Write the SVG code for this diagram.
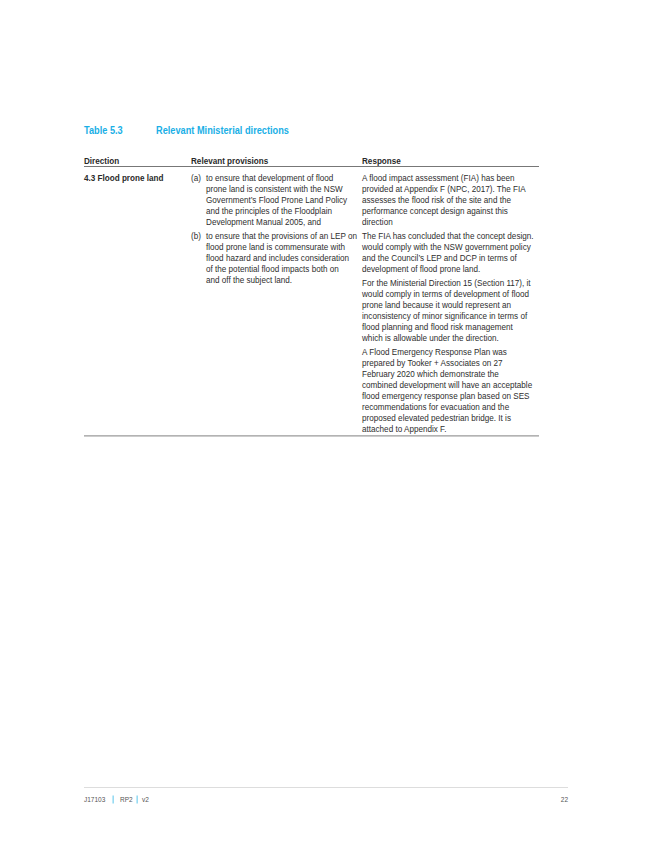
<svg xmlns="http://www.w3.org/2000/svg" width="652" height="844" viewBox="0 0 652 844">
  <style>
    .title { font-family: "Liberation Sans", Arial, sans-serif; font-size: 10.4px; font-weight: bold; fill: #1AAFE6; }
    .hd { font-family: "Liberation Sans", Arial, sans-serif; font-size: 8.6px; font-weight: bold; fill: #2a2a2a; }
    .tx { font-family: "Liberation Sans", Arial, sans-serif; font-size: 8.6px; fill: #2e2e2e; }
    .ft { font-family: "Liberation Sans", Arial, sans-serif; font-size: 6.5px; fill: #555555; }
    .pipe { fill: #7FD3F0; }
  </style>
  <rect x="0" y="0" width="652" height="844" fill="#ffffff"/>

  <g id="table-title" transform="translate(84,0) scale(0.885,1)">
    <text class="title" x="0" y="134.5">Table 5.3</text>
    <text class="title" x="81.4" y="134.5">Relevant Ministerial directions</text>
  </g>

  <g id="table-rules">
    <line x1="84" y1="166.5" x2="539" y2="166.5" stroke="#777777" stroke-width="1"/>
    <line x1="84" y1="435.8" x2="539" y2="435.8" stroke="#9a9a9a" stroke-width="1.3"/>
  </g>

  <g id="table-header">
    <g transform="translate(84,0) scale(0.945,1)"><text class="hd" x="0" y="164">Direction</text></g>
    <g transform="translate(191,0) scale(0.945,1)"><text class="hd" x="0" y="164">Relevant provisions</text></g>
    <g transform="translate(362,0) scale(0.945,1)"><text class="hd" x="0" y="164">Response</text></g>
  </g>

  <g id="direction-cell" transform="translate(84,0) scale(0.945,1)">
    <text class="hd" x="0" y="181">4.3 Flood prone land</text>
  </g>

  <g id="provisions-cell" transform="translate(191,0) scale(0.945,1)">
    <text class="tx" x="0" y="181">(a)</text>
    <text class="tx" x="15.9" y="181">to ensure that development of flood</text>
    <text class="tx" x="15.9" y="192">prone land is consistent with the NSW</text>
    <text class="tx" x="15.9" y="203">Government’s Flood Prone Land Policy</text>
    <text class="tx" x="15.9" y="214">and the principles of the Floodplain</text>
    <text class="tx" x="15.9" y="225">Development Manual 2005, and</text>
    <text class="tx" x="0" y="239">(b)</text>
    <text class="tx" x="15.9" y="239">to ensure that the provisions of an LEP on</text>
    <text class="tx" x="15.9" y="250">flood prone land is commensurate with</text>
    <text class="tx" x="15.9" y="261">flood hazard and includes consideration</text>
    <text class="tx" x="15.9" y="272">of the potential flood impacts both on</text>
    <text class="tx" x="15.9" y="283">and off the subject land.</text>
  </g>

  <g id="response-cell" transform="translate(362,0) scale(0.945,1)">
    <text class="tx" x="0" y="181">A flood impact assessment (FIA) has been</text>
    <text class="tx" x="0" y="192">provided at Appendix F (NPC, 2017). The FIA</text>
    <text class="tx" x="0" y="203">assesses the flood risk of the site and the</text>
    <text class="tx" x="0" y="214">performance concept design against this</text>
    <text class="tx" x="0" y="225">direction</text>
    <text class="tx" x="0" y="239">The FIA has concluded that the concept design.</text>
    <text class="tx" x="0" y="250">would comply with the NSW government policy</text>
    <text class="tx" x="0" y="261">and the Council’s LEP and DCP in terms of</text>
    <text class="tx" x="0" y="272">development of flood prone land.</text>
    <text class="tx" x="0" y="286">For the Ministerial Direction 15 (Section 117), it</text>
    <text class="tx" x="0" y="297">would comply in terms of development of flood</text>
    <text class="tx" x="0" y="308">prone land because it would represent an</text>
    <text class="tx" x="0" y="319">inconsistency of minor significance in terms of</text>
    <text class="tx" x="0" y="330">flood planning and flood risk management</text>
    <text class="tx" x="0" y="341">which is allowable under the direction.</text>
    <text class="tx" x="0" y="355">A Flood Emergency Response Plan was</text>
    <text class="tx" x="0" y="366">prepared by Tooker + Associates on 27</text>
    <text class="tx" x="0" y="377">February 2020 which demonstrate the</text>
    <text class="tx" x="0" y="388">combined development will have an acceptable</text>
    <text class="tx" x="0" y="399">flood emergency response plan based on SES</text>
    <text class="tx" x="0" y="410">recommendations for evacuation and the</text>
    <text class="tx" x="0" y="421">proposed elevated pedestrian bridge. It is</text>
    <text class="tx" x="0" y="432">attached to Appendix F.</text>
  </g>

  <g id="footer">
    <line x1="84" y1="787.5" x2="568" y2="787.5" stroke="#dddddd" stroke-width="1"/>
    <text class="ft" x="84" y="802.3">J17103</text>
    <rect class="pipe" x="112.5" y="795.5" width="1.3" height="8"/>
    <text class="ft" x="120" y="802.3">RP2</text>
    <rect class="pipe" x="136.5" y="795.5" width="1.3" height="8"/>
    <text class="ft" x="142" y="802.3">v2</text>
    <text class="ft" x="568" y="802.3" text-anchor="end">22</text>
  </g>
</svg>
